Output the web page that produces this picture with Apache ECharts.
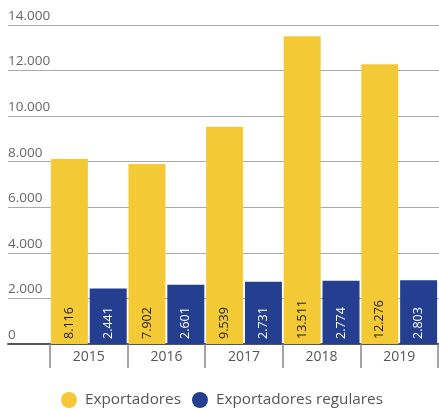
<!DOCTYPE html>
<html><head><meta charset="utf-8">
<script src="https://cdn.jsdelivr.net/npm/echarts@6/dist/echarts.min.js"></script>
<style>html,body{margin:0;padding:0;background:#fff}#c{width:439px;height:410px}</style>
</head><body><div id="c"></div>
<script>
const categories = ['2015','2016','2017','2018','2019'];
const exportadores = [8116, 7902, 9539, 13511, 12276];
const regulares = [2441, 2601, 2731, 2774, 2803];
const seriesNames = ['Exportadores', 'Exportadores regulares'];

const FONT = '"Open Sans", sans-serif';
function fmt(v){ return String(v).replace(/\B(?=(\d{3})+(?!\d))/g, '.'); }

const chart = echarts.init(document.getElementById('c'));
chart.setOption({
  animation: false,
  textStyle: {fontFamily: FONT},
  grid: [
    {left: 8, right: 0, top: 25, bottom: 66},
    {left: 50, right: 1, top: 25, bottom: 66}
  ],
  xAxis: [
    {gridIndex: 0, type: 'value', min: 0, max: 1, show: true,
     axisLine: {show: true, onZero: false, lineStyle: {color: '#555', width: 2}},
     axisTick: {show: false}, axisLabel: {show: false}, splitLine: {show: false}},
    {gridIndex: 1, type: 'category', data: categories,
     axisLine: {show: false},
     axisTick: {show: true, length: 24, alignWithLabel: false, lineStyle: {color: '#888', width: 1.5}},
     axisLabel: {color: '#555', fontSize: 14, margin: 6, fontFamily: FONT}}
  ],
  yAxis: [
    {gridIndex: 0, type: 'value', min: 0, max: 14000, interval: 2000,
     axisLine: {show: false}, axisTick: {show: false},
     splitLine: {lineStyle: {color: '#aaa', width: 1}},
     axisLabel: {inside: true, color: '#666', fontSize: 13.5, fontFamily: FONT,
       verticalAlign: 'bottom', align: 'left', margin: 0, padding: [0,0,2,0],
       formatter: v => fmt(v)}},
    {gridIndex: 1, type: 'value', min: 0, max: 14000, interval: 2000, show: false}
  ],
  legend: {
    top: 387, left: 56, icon: 'circle', itemWidth: 16, itemHeight: 16, itemGap: 11,
    textStyle: {color: '#555', fontSize: 15.3, fontFamily: FONT, padding: [0,0,0,3]},
    data: seriesNames
  },
  series: [
    {name: seriesNames[0], type: 'bar', xAxisIndex: 1, yAxisIndex: 1, data: exportadores,
     barWidth: 37, barGap: '5%',
     itemStyle: {color: '#F3C935'},
     label: {show: true, position: 'insideBottom', rotate: 90, align: 'left', verticalAlign: 'middle',
       distance: 5, color: '#222', fontSize: 12.5, fontFamily: FONT, formatter: p => fmt(p.value)}},
    {name: seriesNames[1], type: 'bar', xAxisIndex: 1, yAxisIndex: 1, data: regulares,
     barWidth: 37,
     itemStyle: {color: '#243F8F'},
     label: {show: true, position: 'insideBottom', rotate: 90, align: 'left', verticalAlign: 'middle',
       distance: 5, color: '#fff', fontSize: 12.5, fontFamily: FONT, formatter: p => fmt(p.value)}}
  ]
});
</script></body></html>
